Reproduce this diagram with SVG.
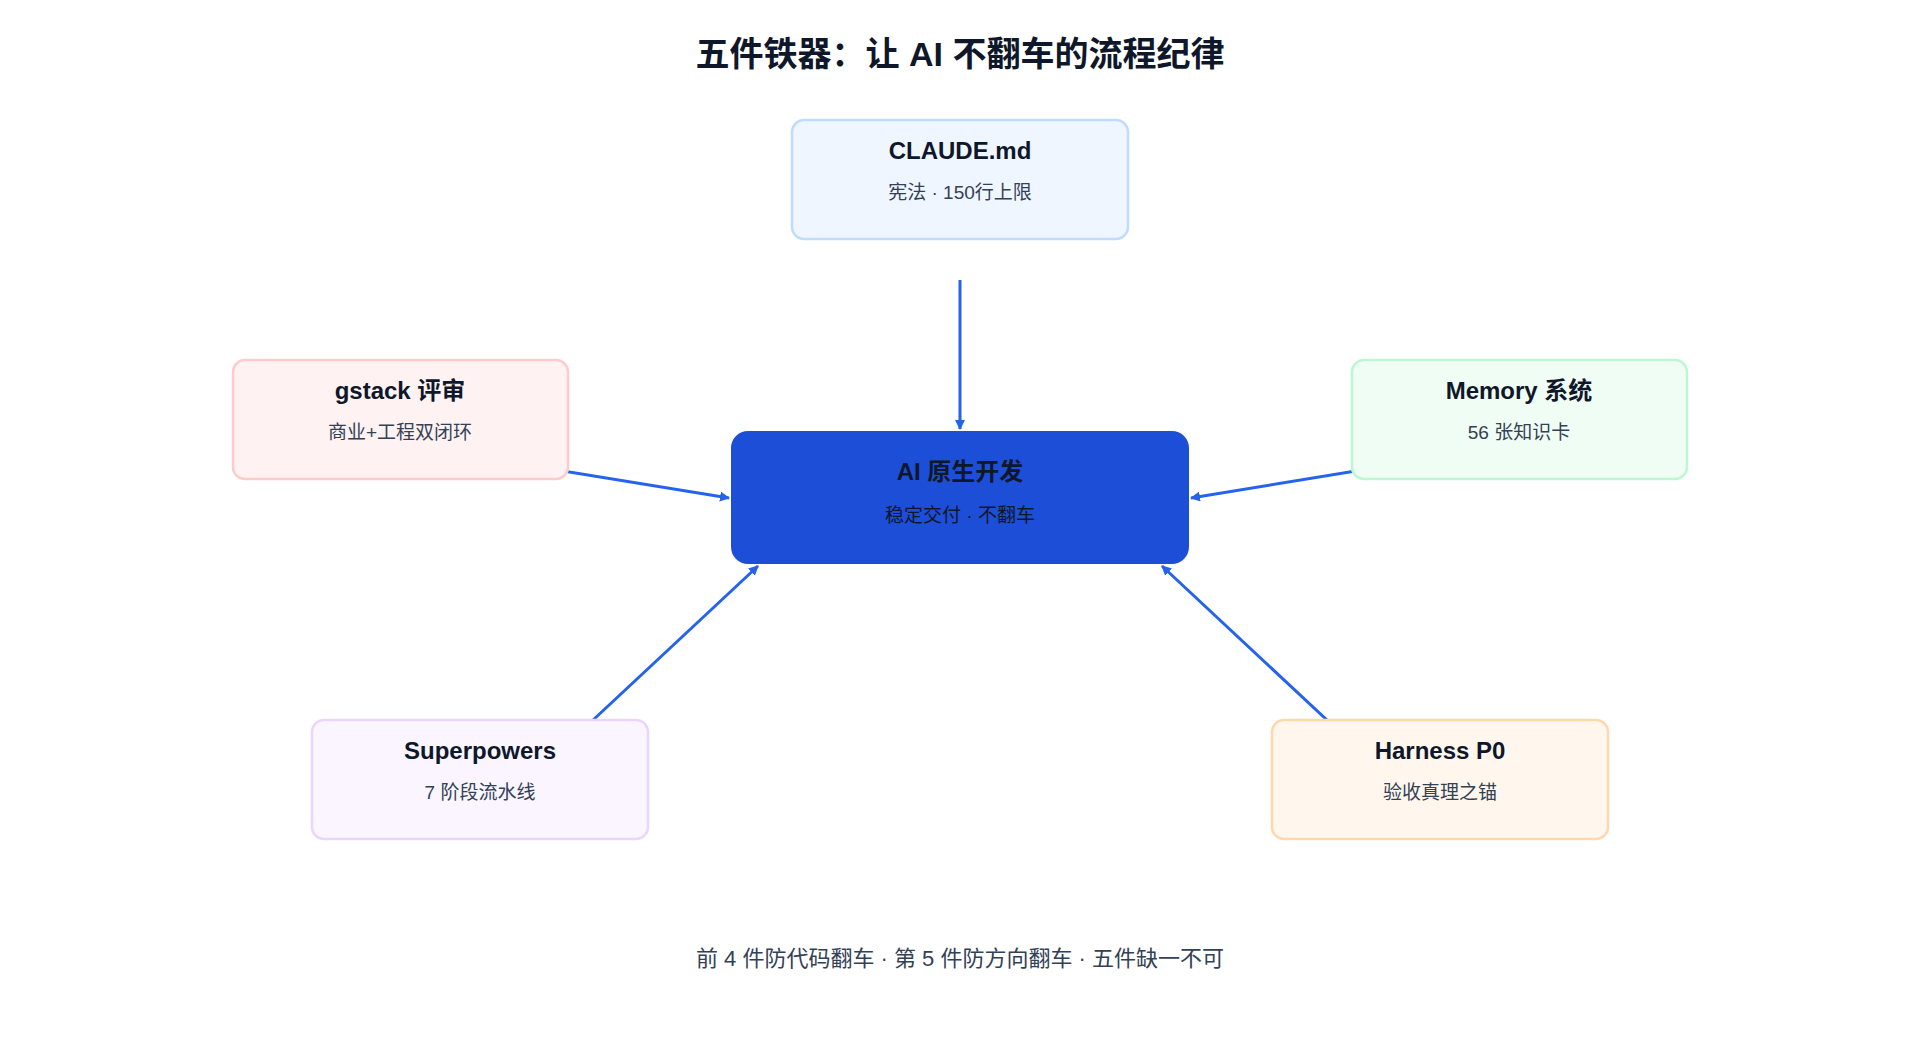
<svg xmlns="http://www.w3.org/2000/svg" width="1920" height="1040" viewBox="0 0 1920 1040">
<defs>
<marker id="ah" markerWidth="10" markerHeight="10" refX="9" refY="5" orient="auto" markerUnits="userSpaceOnUse" viewBox="0 0 10 10"><path d="M0,0 L10,5 L0,10 z" fill="#2563eb"/></marker>
</defs>
<style>
text{font-family:"Liberation Sans","Noto Sans CJK SC",sans-serif;text-anchor:middle}
.t{font-size:24px;font-weight:bold;fill:#0f172a}
.s{font-size:19px;fill:#334155}
.b{stroke-width:2.5}
.c{stroke:#2563eb;stroke-width:3;fill:none;marker-end:url(#ah)}
</style>
<rect width="1920" height="1040" fill="#fff"/>
<text x="960" y="66" style="font-size:34px;font-weight:bold;fill:#0f172a">五件铁器：让 AI 不翻车的流程纪律</text>
<g id="connectors">
<line class="c" x1="960" y1="280" x2="960" y2="429"/>
<line class="c" x1="496" y1="460" x2="729" y2="498"/>
<line class="c" x1="1423" y1="460" x2="1191" y2="498"/>
<line class="c" x1="577" y1="735" x2="758" y2="566"/>
<line class="c" x1="1343" y1="735" x2="1162" y2="566"/>
</g>
<g id="claude"><rect class="b" x="792" y="120" width="336" height="119" rx="12" fill="#eff6ff" stroke="#bfdbfe"/><text class="t" x="960" y="159">CLAUDE.md</text><text class="s" x="960" y="199">宪法 · 150行上限</text></g>
<g id="gstack"><rect class="b" x="233" y="360" width="335" height="119" rx="12" fill="#fef2f2" stroke="#fecaca"/><text class="t" x="400" y="399">gstack 评审</text><text class="s" x="400" y="439">商业+工程双闭环</text></g>
<g id="memory"><rect class="b" x="1352" y="360" width="335" height="119" rx="12" fill="#f0fdf4" stroke="#bbf7d0"/><text class="t" x="1519" y="399">Memory 系统</text><text class="s" x="1519" y="439">56 张知识卡</text></g>
<g id="superpowers"><rect class="b" x="312" y="720" width="336" height="119" rx="12" fill="#faf5ff" stroke="#e9d5ff"/><text class="t" x="480" y="759">Superpowers</text><text class="s" x="480" y="799">7 阶段流水线</text></g>
<g id="harness"><rect class="b" x="1272" y="720" width="336" height="119" rx="12" fill="#fff7ed" stroke="#fed7aa"/><text class="t" x="1440" y="759">Harness P0</text><text class="s" x="1440" y="799">验收真理之锚</text></g>
<g id="center"><rect x="731" y="431" width="458" height="133" rx="17" fill="#1d4ed8"/><text class="t" x="960" y="480" style="fill:#0f172a">AI 原生开发</text><text class="s" x="960" y="522" style="fill:#0f172a">稳定交付 · 不翻车</text></g>
<text x="960" y="966" style="font-size:22px;fill:#334155">前 4 件防代码翻车 · 第 5 件防方向翻车 · 五件缺一不可</text>
</svg>
